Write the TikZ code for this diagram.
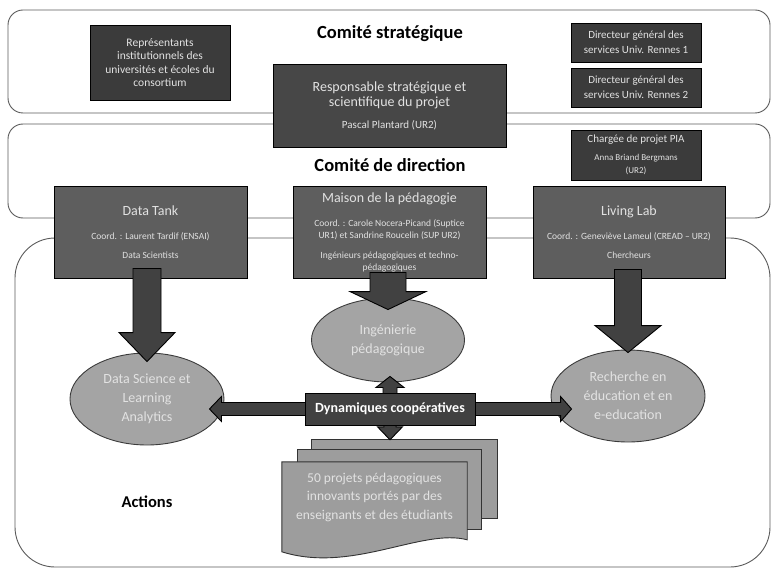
\documentclass[tikz,border=0pt]{standalone}
\usepackage{fontspec}
\setmainfont{Carlito}
\usepackage{tikz}
\usetikzlibrary{calc}
\usetikzlibrary{shapes.geometric}

\definecolor{cDark}{HTML}{3B3B3B}
\definecolor{cResp}{HTML}{474747}
\definecolor{cUnit}{HTML}{5E5E5E}
\definecolor{cOval}{HTML}{A4A4A4}
\definecolor{cArrow}{HTML}{414141}
\definecolor{cSheet}{HTML}{9D9D9D}
\definecolor{cFrame}{HTML}{5A5A5A}
\definecolor{cPale}{HTML}{E2E2E2}

\tikzset{
  committee/.style={draw=cFrame,line width=0.9pt},
  topbox/.style={draw=black,line width=0.9pt,fill=cDark,text=cPale,align=center,inner sep=0pt},
  unitbox/.style={draw=black,line width=0.9pt,fill=cUnit,text=cPale,align=center,inner sep=0pt,
    minimum width=193,minimum height=92},
  actoval/.style={ellipse,draw=cDark,line width=0.9pt,fill=cOval,text=cPale,align=center,inner sep=0pt,
    minimum width=154,minimum height=92,font=\fontsize{14}{19}\selectfont},
  bigarrow/.style={draw=black,line width=0.9pt,fill=cArrow},
  sheetpath/.style={draw=black!80,line width=0.9pt,fill=cSheet},
  title/.style={font=\bfseries\fontsize{18.5}{21}\selectfont}
}

% block arrow: style, start, tip, shaft half, head half, head length
\newcommand{\blockarrow}[6]{%
  \coordinate (hb) at ($(#3)!#6!(#2)$);
  \path[#1] ($(#2)!#4!90:(#3)$) -- ($(hb)!#4!90:(#3)$) -- ($(hb)!#5!90:(#3)$) -- (#3)
    -- ($(hb)!#5!-90:(#3)$) -- ($(hb)!#4!-90:(#3)$) -- ($(#2)!#4!-90:(#3)$) -- cycle;}

\begin{document}
\begin{tikzpicture}[x=1pt,y=-1pt]
\useasboundingbox (0,0) rectangle (773,569);

% Committees
\draw[committee,rounded corners=15] (8,10) rectangle (770,113);
\draw[committee,rounded corners=15] (8,124) rectangle (770,218);
\draw[committee,rounded corners=40] (15,238) rectangle (770,567);

\node[title] (strat) at (390,34) {Comité stratégique};
\node[title] (direc) at (390,165) {Comité de direction};
\node[title,font=\bfseries\fontsize{16.5}{19}\selectfont] (act) at (147,502) {Actions};

% Strategic boxes
\node[topbox,minimum width=140,minimum height=75,font=\fontsize{11.5}{13.5}\selectfont] (rep) at (160,62.5)
  {Représentants\\institutionnels des\\universités et écoles du\\consortium};
\node[topbox,fill=cResp,minimum width=233,minimum height=83,font=\fontsize{14}{15.5}\selectfont] (resp) at (389.5,105.5)
  {Responsable stratégique et\\scientifique du projet\\[6pt]{\fontsize{11}{12}\selectfont Pascal Plantard (UR2)}};
\node[topbox,minimum width=130,minimum height=39,font=\fontsize{11}{15}\selectfont] (dir1) at (636,42.5)
  {Directeur général des\\services Univ. Rennes 1};
\node[topbox,minimum width=130,minimum height=39,font=\fontsize{11}{15}\selectfont] (dir2) at (636,87.5)
  {Directeur général des\\services Univ. Rennes 2};
\node[topbox,minimum width=130,minimum height=50,font=\fontsize{11}{13}\selectfont] (pia) at (636,155)
  {Chargée de projet PIA\\[5pt]{\fontsize{9}{10}\selectfont Anna Briand Bergmans}\\{\fontsize{9}{10}\selectfont (UR2)}};

% Units
\node[unitbox,font=\fontsize{9.5}{19}\selectfont] (dt) at (150.5,232)
  {{\fontsize{14}{15}\selectfont Data Tank}\\[5pt]Coord. : Laurent Tardif (ENSAI)\\Data Scientists};
\node[unitbox,font=\fontsize{9.5}{12}\selectfont] (maison) at (389.5,232)
  {{\fontsize{14}{15}\selectfont Maison de la pédagogie}\\[12pt]Coord. : Carole Nocera-Picand (Suptice\\UR1) et Sandrine Roucelin (SUP UR2)\\[8pt]Ingénieurs pédagogiques et techno-\\pédagogiques};
\node[unitbox,minimum width=192,font=\fontsize{9.5}{19}\selectfont] (ll) at (629,232)
  {{\fontsize{14}{15}\selectfont Living Lab}\\[5pt]Coord. : Geneviève Lameul (CREAD – UR2)\\Chercheurs};

% Actions
\node[actoval,minimum width=153,minimum height=84] (ing) at (388,340) {Ingénierie\\pédagogique};
\node[actoval] (dse) at (147,399) {Data Science et\\Learning\\Analytics};
\node[actoval] (rech) at (628,396) {Recherche en\\éducation et en\\e-education};

% Arrows from units
\coordinate (dtA) at ($(dse.north |- dt.south)+(0,-10)$);
\coordinate (dtB) at ($(dse.north)+(0,9)$);
\coordinate (maA) at ($(ing.north |- maison.south)+(0,-6)$);
\coordinate (maB) at ($(ing.north)+(0,12)$);
\coordinate (llA) at ($(rech.north |- ll.south)+(0,-9)$);
\coordinate (llB) at ($(rech.north)+(0,3)$);
\blockarrow{bigarrow}{dtA}{dtB}{14pt}{28pt}{29pt}
\blockarrow{bigarrow}{maA}{maB}{18pt}{38pt}{18pt}
\blockarrow{bigarrow}{llA}{llB}{13.5pt}{33pt}{27pt}

% Projects
\path node[minimum width=185,minimum height=90,inner sep=0pt] (docs) at (374.5,507) {};
\draw[sheetpath] ($(docs.north west)+(30,-22)$) rectangle ($(docs.north east)+(30,57)$);
\draw[sheetpath] ($(docs.north west)+(16,-12)$) rectangle ($(docs.north east)+(14,68)$);
\coordinate (wR) at ($(docs.north east)+(0,78)$);
\coordinate (wL) at ($(docs.north west)+(0,90)$);
\coordinate (wc1) at ($(wR)+(-45,-12)$);
\coordinate (wc2) at ($(wL)+(70,22)$);
\draw[sheetpath] (docs.north west) -- (docs.north east) -- (wR) .. controls (wc1) and (wc2) .. (wL) -- cycle;
\node[text=cPale,align=center,font=\fontsize{13.5}{18.5}\selectfont] (docstxt) at ($(docs.center)+(0,-10)$)
  {50 projets pédagogiques\\innovants portés par des\\enseignants et des étudiants};

% Cooperative dynamics
\path node[minimum width=170,minimum height=32,inner sep=0pt] (dyn) at (390,409) {};
\coordinate (tipL) at ($(dyn.center -| dse.east)+(-15,0)$);
\coordinate (tipR) at ($(dyn.center -| rech.west)+(21,0)$);
\coordinate (tipU) at ($(dyn.center |- ing.south)+(0,-6)$);
\coordinate (tipD) at ($(dyn.center |- docs.north)+(0,-22)$);
\blockarrow{bigarrow}{dyn.center}{tipL}{6.5pt}{12.5pt}{12pt}
\blockarrow{bigarrow}{dyn.center}{tipR}{6.5pt}{12.5pt}{11pt}
\blockarrow{bigarrow}{dyn.center}{tipU}{7pt}{14pt}{11pt}
\blockarrow{bigarrow}{dyn.center}{tipD}{6pt}{12.5pt}{13pt}
\node[bigarrow,minimum width=170,minimum height=32,text=white,font=\bfseries\fontsize{14}{15}\selectfont] (dynbox) at (dyn)
  {Dynamiques coopératives};
\end{tikzpicture}
\end{document}
